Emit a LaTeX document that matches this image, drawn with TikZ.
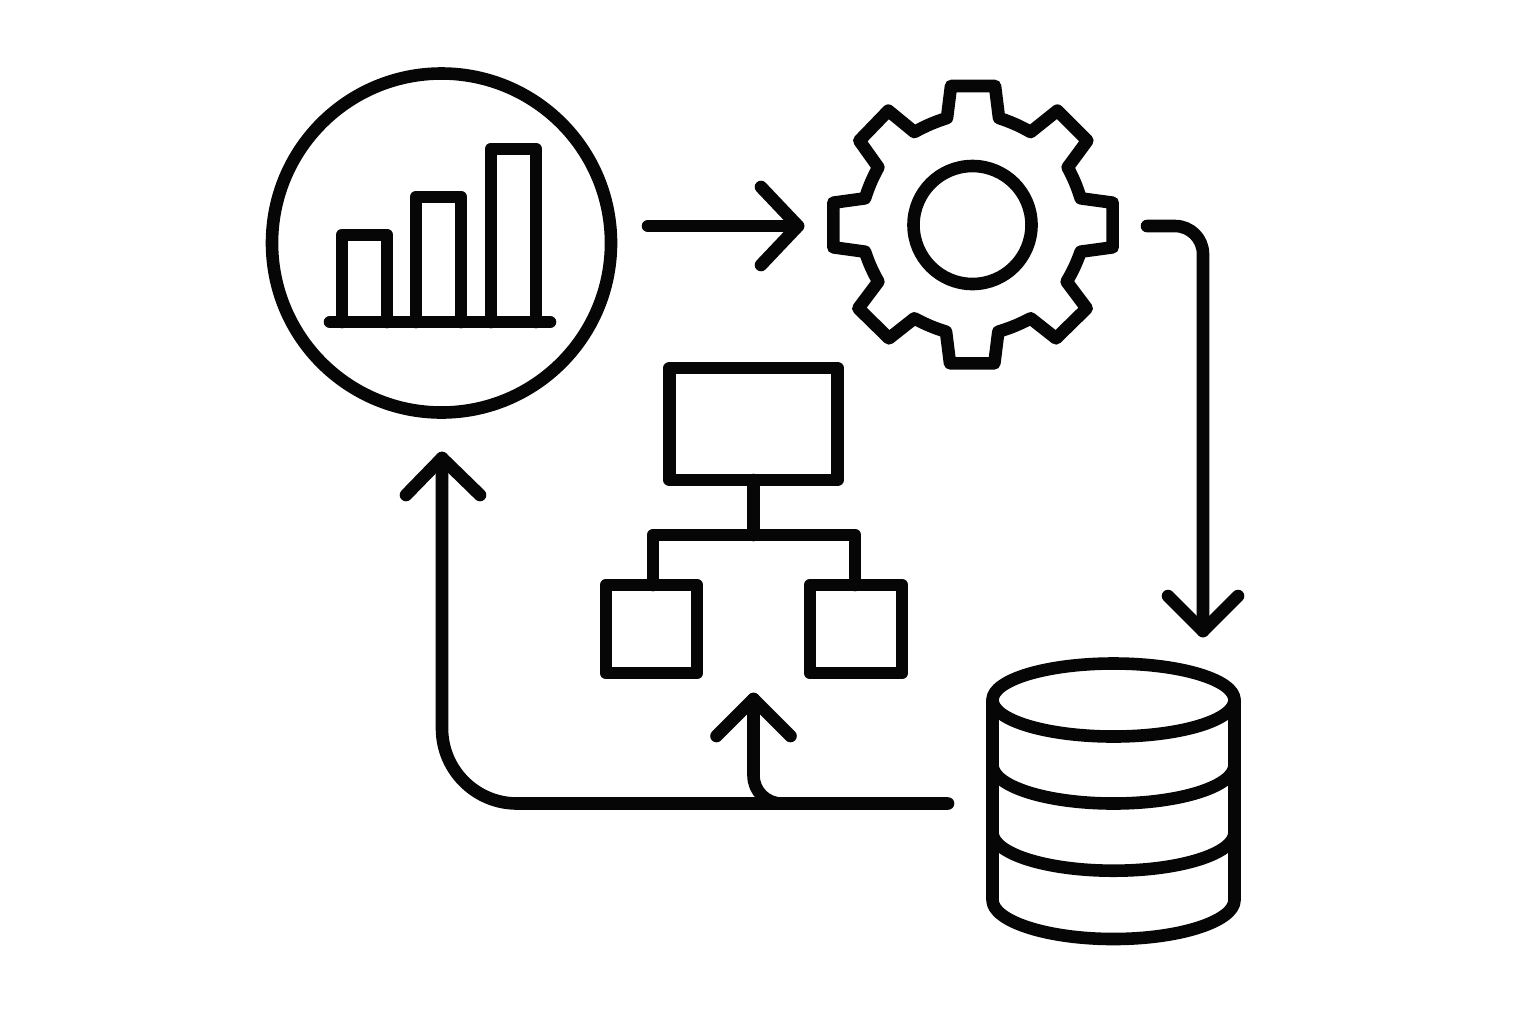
\documentclass[tikz,border=0pt]{standalone}
\definecolor{ink}{HTML}{060606}
\newcommand{\dbarc}[2]{(992.5,#1) .. controls (992.5,#1+#2*0.55) and (1046.5,#1+#2) .. (1113.5,#1+#2) .. controls (1180.5,#1+#2) and (1234.5,#1+#2*0.55) .. (1234.5,#1)}
\tikzset{
  icon/.style={draw=ink,line width=6.3pt,line join=round,line cap=round},
  boxn/.style={icon,rectangle,inner sep=0pt,outer sep=0pt},
}
\begin{document}
\begin{tikzpicture}[x=0.5pt,y=-0.5pt]
\useasboundingbox (0,0) rectangle (1536,1024);
% chart in circle
\node[icon,circle,inner sep=0pt,outer sep=0pt,minimum size=169.5pt] (ring) at (441.5,243) {};
\draw[icon] (342,322) -- (342,235) -- (387,235) -- (387,322);
\draw[icon] (416,322) -- (416,197) -- (461,197) -- (461,322);
\draw[icon] (491,322) -- (491,149) -- (536,149) -- (536,322);
\draw[icon] (330,322) -- (550,322);
% gear
\begin{scope}[shift={(810,60)},x=0.16667pt,y=-0.16667pt]
\draw[icon]
 (423,78) -- (555,78) -- (567,174) to[bend left=5] (662,216) -- (742,152) -- (832,242) -- (773,322)
 to[bend left=5] (812,415) -- (908,428) -- (908,562) -- (812,575)
 to[bend left=5] (770,665) -- (830,745) -- (738,835) -- (662,775)
 to[bend left=5] (565,815) -- (553,910) -- (420,910) -- (408,815)
 to[bend left=5] (313,775) -- (237,835) -- (145,745) -- (205,665)
 to[bend left=5] (165,575) -- (70,562) -- (70,428) -- (165,415)
 to[bend left=5] (205,322) -- (148,242) -- (235,152) -- (313,216)
 to[bend left=5] (411,174) -- cycle;
\end{scope}
\node[icon,circle,inner sep=0pt,outer sep=0pt,minimum size=59pt] (hub) at (972.5,225) {};
% org chart
\node[boxn,minimum width=84pt,minimum height=56pt] (top) at (753.5,424) {};
\node[boxn,minimum width=45.5pt,minimum height=44pt] (left) at (651.5,629) {};
\node[boxn,minimum width=46pt,minimum height=44pt] (right) at (856,629) {};
\coordinate (bus) at (753.5,535);
\coordinate (busL) at (653,535);
\coordinate (busR) at (855,535);
\draw[icon] (top.south) -- (bus);
\draw[icon] (left.north -| busL) -- (busL) -- (busR) -- (right.north -| busR);
% database
\draw[icon] (1113.5,700) ellipse[x radius=60.5pt,y radius=18.25pt];
\draw[icon] (992.5,700) -- (992.5,900) .. controls (992.5,921) and (1046.5,939) .. (1113.5,939) .. controls (1180.5,939) and (1234.5,921) .. (1234.5,900) -- (1234.5,700);
\draw[icon,line cap=butt] \dbarc{765}{38.5};
\draw[icon,line cap=butt] \dbarc{832.5}{38.2};
% connectors
\coordinate (a1s) at (648,226);
\coordinate (a1e) at (798,226);
\coordinate (a1u) at (761,187);
\coordinate (a1d) at (761,265);
\draw[icon] (a1s) -- (a1e);
\draw[icon] (a1u) -- (a1e) -- (a1d);
\coordinate (a2s) at (1147,226);
\coordinate (a2c) at (1203,226);
\coordinate (a2e) at (1203,631);
\coordinate (a2l) at (1168,596);
\coordinate (a2r) at (1238,596);
\draw[icon,rounded corners=14pt] (a2s) -- (a2c) -- (a2e);
\draw[icon] (a2l) -- (a2e) -- (a2r);
\coordinate (a3s) at (948,803.5);
\coordinate (a3c) at (442,803.5);
\coordinate (a3e) at (442,458);
\coordinate (a3l) at (406,495);
\coordinate (a3r) at (480,495);
\draw[icon,rounded corners=37.5pt] (a3s) -- (a3c) -- (a3e);
\draw[icon] (a3l) -- (a3e) -- (a3r);
\coordinate (a4s) at (781,803.5);
\coordinate (a4c) at (753.5,803.5);
\coordinate (a4e) at (753.5,699);
\coordinate (a4l) at (716.5,736);
\coordinate (a4r) at (790.5,736);
\draw[icon,rounded corners=14pt] (a4s) -- (a4c) -- (a4e);
\draw[icon] (a4l) -- (a4e) -- (a4r);
\end{tikzpicture}
\end{document}
